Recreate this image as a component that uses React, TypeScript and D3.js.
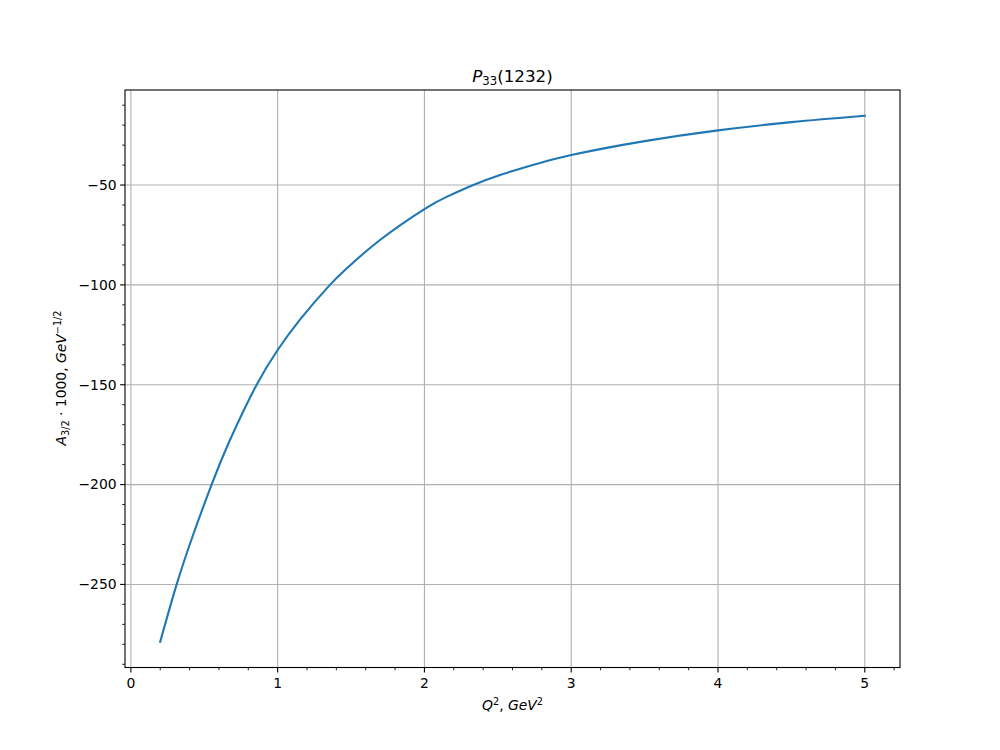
import React from "react";
import * as d3 from "d3";

const q2Values = [0.2, 0.312, 0.425, 0.55, 0.675, 0.857, 1.0, 1.152, 1.356, 1.47, 1.697, 2.0, 2.152, 2.333, 2.515, 2.697, 3.0, 3.5, 4.0, 4.5, 5.0];
const a32Values = [-278.7, -250, -225, -200, -177.7, -150, -132.6, -117.4, -100, -91.8, -77.5, -62.0, -55.9, -50, -45, -40.8, -35, -28.0, -22.6, -18.5, -15.3];
const xTicks = [0, 1, 2, 3, 4, 5];
const yTicks = [-250, -200, -150, -100, -50];

const W = 1000, H = 750;
const L = 125, R = 900, T = 90, B = 667.5;
const FONT = "DejaVu Sans, sans-serif";

export default function App() {
  const x = d3.scaleLinear().domain([-0.04, 5.24]).range([L, R]);
  const y = d3.scaleLinear().domain([-291.6, -2.4]).range([B, T]);
  const xMinor = d3.range(0, 5.21, 0.2).filter((v) => Math.abs(v - Math.round(v)) > 1e-6);
  const yMinor = d3.range(-290, -2.4, 10).filter((v) => v % 50 !== 0);
  const pts: [number, number][] = q2Values.map((q, i) => [q, a32Values[i]]);
  const line = d3.line<[number, number]>().x((d) => x(d[0])).y((d) => y(d[1])).curve(d3.curveNatural);
  const fmt = (v: number) => (v < 0 ? "\u2212" + Math.abs(v) : String(v));

  return (
    <svg width={W} height={H} style={{ display: "block", margin: "-8px", fontFamily: FONT }}>
      <rect x={0} y={0} width={W} height={H} fill="#fff" />
      <g stroke="#b0b0b0" strokeWidth={1.1}>
        {xTicks.map((t) => (
          <line key={"gx" + t} x1={x(t)} x2={x(t)} y1={T} y2={B} />
        ))}
        {yTicks.map((t) => (
          <line key={"gy" + t} x1={L} x2={R} y1={y(t)} y2={y(t)} />
        ))}
      </g>
      <path d={line(pts) || ""} fill="none" stroke="#1f77b4" strokeWidth={2.1} strokeLinecap="square" />
      <rect x={L} y={T} width={R - L} height={B - T} fill="none" stroke="#000" strokeWidth={1.1} />
      <g stroke="#000" strokeWidth={1.1}>
        {xTicks.map((t) => (
          <line key={"xt" + t} x1={x(t)} x2={x(t)} y1={B} y2={B + 4.9} />
        ))}
        {xMinor.map((t) => (
          <line key={"xm" + t} x1={x(t)} x2={x(t)} y1={B} y2={B + 2.8} strokeWidth={0.85} />
        ))}
        {yTicks.map((t) => (
          <line key={"yt" + t} x1={L - 4.9} x2={L} y1={y(t)} y2={y(t)} />
        ))}
        {yMinor.map((t) => (
          <line key={"ym" + t} x1={L - 2.8} x2={L} y1={y(t)} y2={y(t)} strokeWidth={0.85} />
        ))}
      </g>
      <g fontSize={13.9} fill="#000">
        {xTicks.map((t) => (
          <text key={"xl" + t} x={x(t)} y={B + 20.5} textAnchor="middle">
            {fmt(t)}
          </text>
        ))}
        {yTicks.map((t) => (
          <text key={"yl" + t} x={L - 8.4} y={y(t)} dy="0.35em" textAnchor="end">
            {fmt(t)}
          </text>
        ))}
      </g>
      <text x={(L + R) / 2} y={81.5} textAnchor="middle" fontSize={16.7}>
        <tspan fontStyle="italic">P</tspan>
        <tspan fontSize={11.7} dy={3.5}>33</tspan>
        <tspan dy={-3.5}>(1232)</tspan>
      </text>
      <text x={(L + R) / 2} y={710} textAnchor="middle" fontSize={13.9}>
        <tspan fontStyle="italic">Q</tspan>
        <tspan fontSize={9.7} dy={-5.5}>2</tspan>
        <tspan dy={5.5}>, </tspan>
        <tspan fontStyle="italic">GeV</tspan>
        <tspan fontSize={9.7} dy={-5.5}>2</tspan>
      </text>
      <text transform="translate(66,378) rotate(-90)" textAnchor="middle" fontSize={13.9}>
        <tspan fontStyle="italic">A</tspan>
        <tspan fontSize={9.7} dy={3}>3/2</tspan>
        <tspan dy={-3}>{" \u00b7 1000, "}</tspan>
        <tspan fontStyle="italic">GeV</tspan>
        <tspan fontSize={9.7} dy={-5.5}>{"\u22121/2"}</tspan>
      </text>
    </svg>
  );
}
